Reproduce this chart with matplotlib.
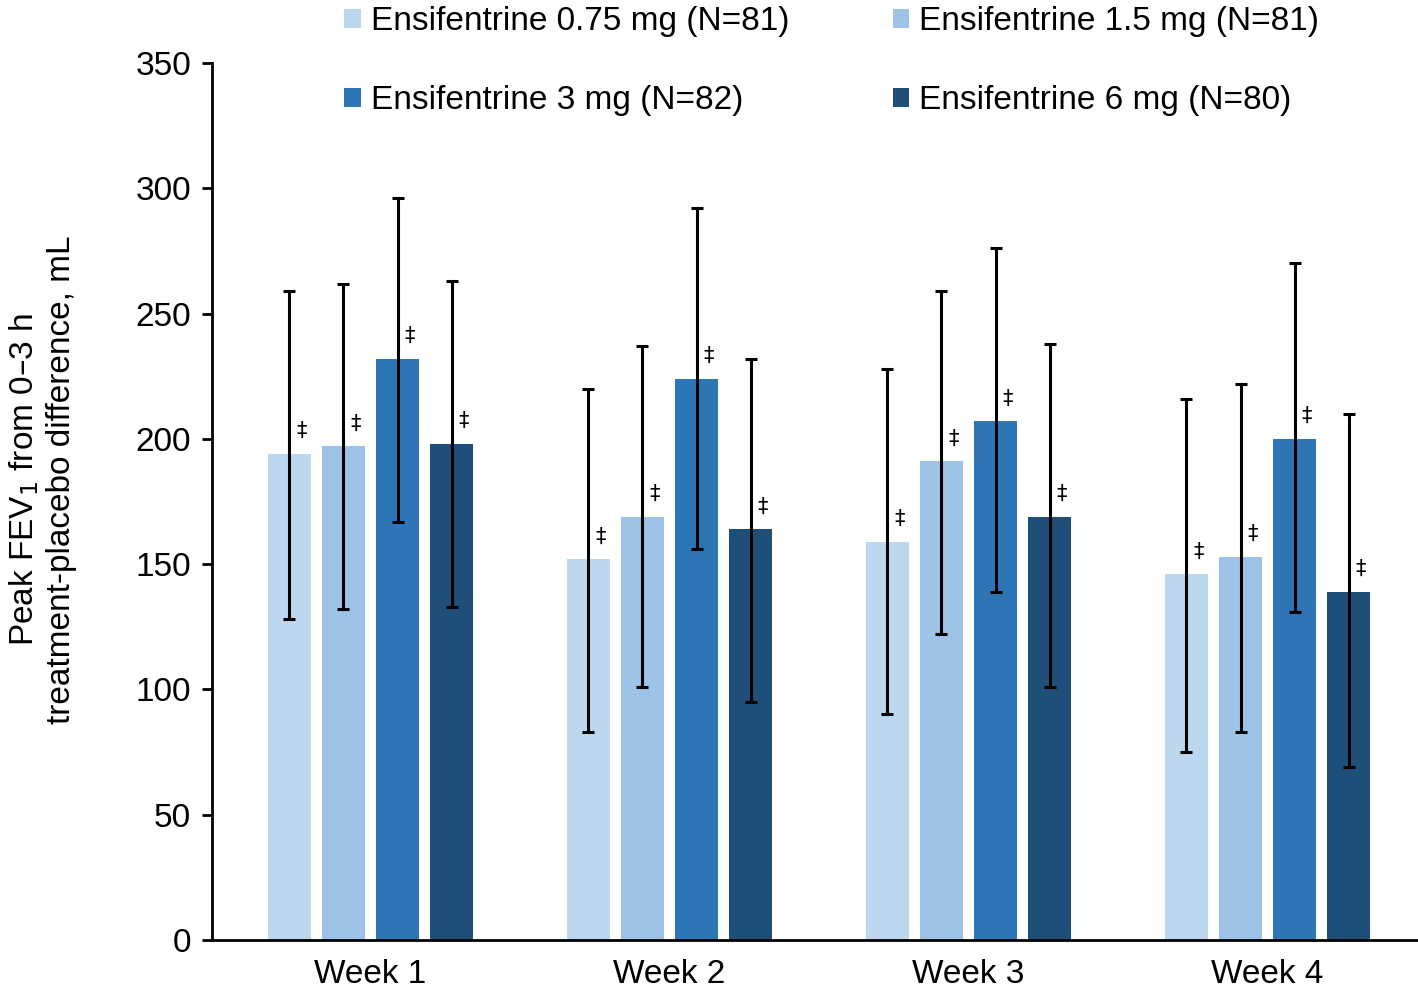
import matplotlib
matplotlib.use("Agg")
import matplotlib.pyplot as plt
import numpy as np

weeks = ["Week 1", "Week 2", "Week 3", "Week 4"]
series_labels = ["Ensifentrine 0.75 mg (N=81)", "Ensifentrine 1.5 mg (N=81)",
                 "Ensifentrine 3 mg (N=82)", "Ensifentrine 6 mg (N=80)"]
colors = ["#BDD7EE", "#9DC3E6", "#2E75B6", "#1F4E79"]

means = {
    "0.75": [194, 152, 159, 146],
    "1.5":  [197, 169, 191, 153],
    "3":    [232, 224, 207, 200],
    "6":    [198, 164, 169, 139],
}
lower = {
    "0.75": [128, 83, 90, 75],
    "1.5":  [132, 101, 122, 83],
    "3":    [167, 156, 139, 131],
    "6":    [133, 95, 101, 69],
}
upper = {
    "0.75": [259, 220, 228, 216],
    "1.5":  [262, 237, 259, 222],
    "3":    [296, 292, 276, 270],
    "6":    [263, 232, 238, 210],
}
keys = ["0.75", "1.5", "3", "6"]
sig_mark = "‡"

plt.rcParams['font.family'] = ['Liberation Sans', 'DejaVu Sans']

fig = plt.figure(figsize=(14.18, 9.92), dpi=100)
ax = fig.add_axes([212/1418, 1 - 940/992, 1 - 212/1418, (940 - 63)/992])

x = np.arange(len(weeks))
step = 0.181
width = 0.144
handles = []
for i, k in enumerate(keys):
    xs = x + (i - 1.5) * step
    m = np.array(means[k])
    lo = np.array(lower[k])
    hi = np.array(upper[k])
    b = ax.bar(xs, m, width=width, color=colors[i], label=series_labels[i], zorder=2)
    handles.append(b)
    ax.errorbar(xs, m, yerr=[m - lo, hi - m], fmt="none", ecolor="black",
                elinewidth=2.2, capsize=4, capthick=2.2, zorder=3)
    for xi, mi in zip(xs, m):
        ax.text(xi + 0.04, mi + 5, sig_mark, ha="center", va="bottom",
                fontsize=15, family=['DejaVu Sans'], zorder=4)

ax.set_xlim(-0.53, 3.503)
ax.set_ylim(0, 350)
ax.set_yticks(np.arange(0, 351, 50))
ax.set_xticks(x)
ax.set_xticklabels(weeks, fontsize=24)
ax.tick_params(axis="y", labelsize=24, length=7, width=2, direction="out", pad=8)
ax.tick_params(axis="x", length=0, pad=14)
for s in ["top", "right"]:
    ax.spines[s].set_visible(False)
ax.spines["left"].set_linewidth(2)
ax.spines["bottom"].set_linewidth(2)

ax.set_ylabel("Peak FEV$_1$ from 0–3 h\ntreatment-placebo difference, mL",
              fontsize=24, linespacing=1.2)
ax.yaxis.set_label_coords(-0.112, 0.525)

order = [0, 2, 1, 3]
fig.legend(handles=[handles[j] for j in order],
           labels=[series_labels[j] for j in order], ncol=2, loc="upper left",
           bbox_to_anchor=(344/1418, 1 - 6/992), frameon=False, fontsize=24,
           handlelength=0.5, handleheight=0.5, handletextpad=0.3,
           columnspacing=3.1, labelspacing=1.45, borderaxespad=0,
           borderpad=0)

fig.savefig("out.png", dpi=100)
